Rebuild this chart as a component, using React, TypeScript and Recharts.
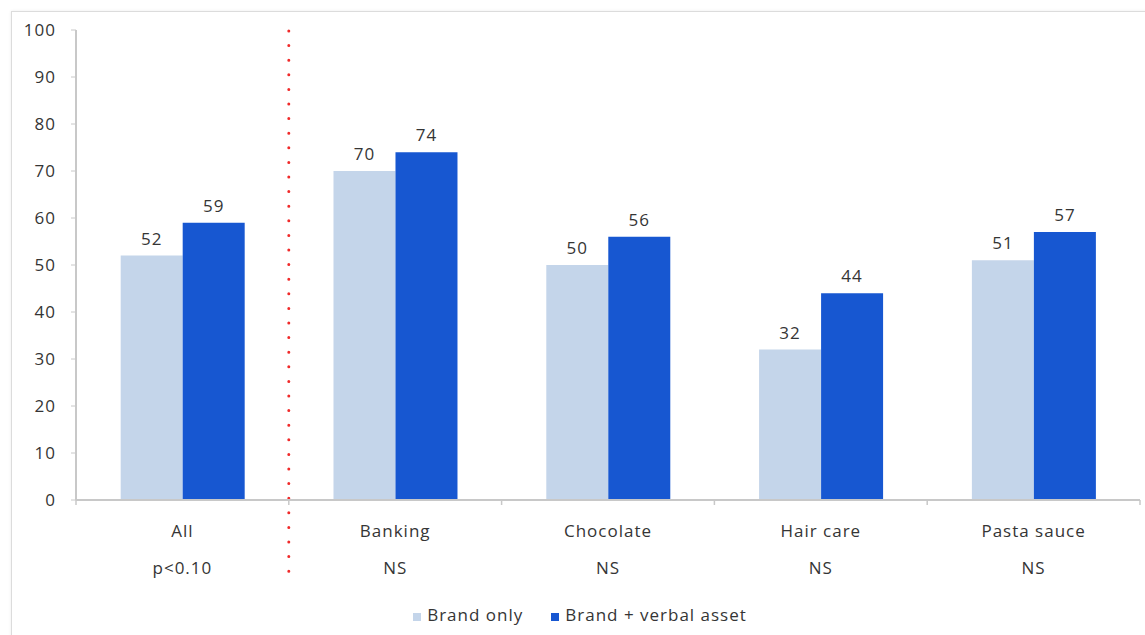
import { Bar, BarChart, LabelList, Legend, ReferenceLine, XAxis, YAxis } from "recharts";

const categories = ["All", "Banking", "Chocolate", "Hair care", "Pasta sauce"];
const significance = ["p<0.10", "NS", "NS", "NS", "NS"];
const brandOnly = [52, 70, 50, 32, 51];
const brandVerbal = [59, 74, 56, 44, 57];
const yTicks = [0, 10, 20, 30, 40, 50, 60, 70, 80, 90, 100];

const data = categories.map((name, i) => ({
  name,
  sig: significance[i],
  brandOnly: brandOnly[i],
  brandVerbal: brandVerbal[i],
}));

const W = 1145;
const H = 635;
const M = { top: 30, right: 5, left: 0, bottom: 0 };
const Y_W = 76;
const band = (W - M.left - M.right - Y_W) / categories.length;

const LIGHT = "#c4d5ea";
const DARK = "#1757d1";
const TEXT = "#353535";
const FONT = "'Open Sans', sans-serif";
const LS = 1;

function CategoryTick(props: any) {
  const { x, y, payload, index } = props;
  const i = categories.indexOf(payload.value);
  const left = x - band / 2;
  return (
    <g>
      <line x1={left} y1={y - 8} x2={left} y2={y - 3} stroke="#c8c8c8" strokeWidth={1.5} />
      {index === categories.length - 1 && (
        <line x1={x + band / 2} y1={y - 8} x2={x + band / 2} y2={y - 3} stroke="#c8c8c8" strokeWidth={1.5} />
      )}
      <text x={x} y={y + 29} textAnchor="middle" fill={TEXT} fontSize={17} fontFamily={FONT} letterSpacing={LS}>
        {payload.value}
      </text>
      <text x={x} y={y + 66} textAnchor="middle" fill={TEXT} fontSize={17} fontFamily={FONT} letterSpacing={LS}>
        {significance[i]}
      </text>
    </g>
  );
}

// dotted separator sits on the boundary between the first two categories
function DottedDivider(p: any) {
  const top = Math.min(p.y1, p.y2);
  const bottom = Math.max(p.y1, p.y2) + 82;
  const x = p.x1 - band / 2;
  return (
    <line
      x1={x}
      y1={top + 1}
      x2={x}
      y2={bottom}
      stroke="#f02a2a"
      strokeWidth={3}
      strokeDasharray="0 14.6"
      strokeLinecap="round"
    />
  );
}

function LegendContent() {
  const items = [
    { label: "Brand only", color: LIGHT },
    { label: "Brand + verbal asset", color: DARK },
  ];
  return (
    <div
      style={{
        display: "flex",
        justifyContent: "center",
        gap: 28,
        fontFamily: FONT,
        fontSize: 17,
        color: TEXT,
        letterSpacing: LS,
        paddingLeft: 20,
        paddingTop: 3,
      }}
    >
      {items.map((it) => (
        <div key={it.label} style={{ display: "flex", alignItems: "baseline", gap: 6 }}>
          <span style={{ display: "inline-block", width: 8, height: 8, background: it.color }} />
          <span>{it.label}</span>
        </div>
      ))}
    </div>
  );
}

export default function App() {
  return (
    <div style={{ position: "absolute", left: 0, top: 0, width: W, height: H, background: "#fff" }}>
      <div
        style={{
          position: "absolute",
          left: 11,
          top: 11,
          width: W,
          height: H,
          border: "1px solid #dcdcdc",
          boxShadow: "0 0 3px rgba(0,0,0,0.08)",
        }}
      />
      <div style={{ position: "absolute", left: 0, top: 0 }}>
        <BarChart width={W} height={H} data={data} margin={M} barCategoryGap="21%" barGap={0}>
          <XAxis
            dataKey="name"
            height={100}
            tickLine={false}
            axisLine={{ stroke: "#c8c8c8", strokeWidth: 2 }}
            tick={<CategoryTick />}
            interval={0}
          />
          <YAxis
            width={Y_W}
            domain={[0, 100]}
            ticks={yTicks}
            tickSize={5}
            tickMargin={15}
            tickLine={{ stroke: "#c8c8c8" }}
            axisLine={{ stroke: "#c8c8c8", strokeWidth: 2 }}
            tick={{ fill: TEXT, fontSize: 17, fontFamily: FONT, letterSpacing: LS }}
          />
          <ReferenceLine x="Banking" shape={<DottedDivider />} />
          <Legend verticalAlign="bottom" height={35} content={<LegendContent />} />
          <Bar dataKey="brandOnly" name="Brand only" fill={LIGHT} isAnimationActive={false}>
            <LabelList
              dataKey="brandOnly"
              position="top"
              offset={11}
              fill={TEXT}
              fontSize={17}
              fontFamily={FONT}
              letterSpacing={LS}
            />
          </Bar>
          <Bar dataKey="brandVerbal" name="Brand + verbal asset" fill={DARK} isAnimationActive={false}>
            <LabelList
              dataKey="brandVerbal"
              position="top"
              offset={11}
              fill={TEXT}
              fontSize={17}
              fontFamily={FONT}
              letterSpacing={LS}
            />
          </Bar>
        </BarChart>
      </div>
    </div>
  );
}
